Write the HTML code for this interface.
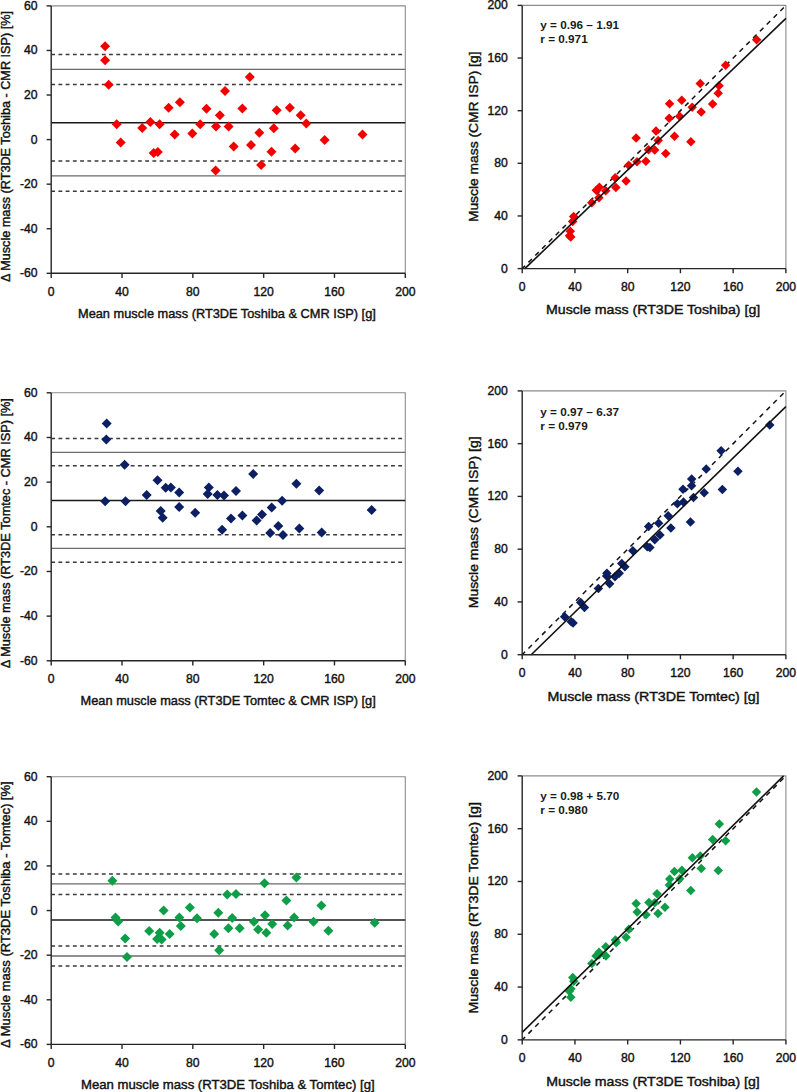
<!DOCTYPE html>
<html><head><meta charset="utf-8"><title>Muscle mass comparison</title>
<style>html,body{margin:0;padding:0;background:#fff;}svg{display:block;}text{font-family:"Liberation Sans", sans-serif;fill:#111;stroke:#111;stroke-width:0.4px;}.t{font-size:12.2px;}.ti{font-size:12.4px;}.ti2{font-size:13px;}.st{font-size:11.75px;font-weight:bold;fill:#1a1a1a;stroke:none;}</style></head><body>
<svg width="797" height="1092" viewBox="0 0 797 1092">
<rect width="797" height="1092" fill="#fff"/>
<path d="M51.2 5.9H405.3V273.3" fill="none" stroke="#8c8c8c" stroke-width="1.1"/>
<line x1="51.2" y1="54.4" x2="402.2" y2="54.4" stroke="#3a3a3a" stroke-width="1.5" stroke-dasharray="3.85 3.38"/>
<line x1="51.2" y1="69.4" x2="405.3" y2="69.4" stroke="#6a6a6a" stroke-width="1.3"/>
<line x1="51.2" y1="84.4" x2="402.2" y2="84.4" stroke="#3a3a3a" stroke-width="1.5" stroke-dasharray="3.85 3.38"/>
<line x1="51.2" y1="122.7" x2="405.3" y2="122.7" stroke="#1a1a1a" stroke-width="1.5"/>
<line x1="51.2" y1="160.9" x2="402.2" y2="160.9" stroke="#3a3a3a" stroke-width="1.5" stroke-dasharray="3.85 3.38"/>
<line x1="51.2" y1="175.9" x2="405.3" y2="175.9" stroke="#6a6a6a" stroke-width="1.3"/>
<line x1="51.2" y1="191.2" x2="402.2" y2="191.2" stroke="#3a3a3a" stroke-width="1.5" stroke-dasharray="3.85 3.38"/>
<path d="M105.1 41.3L110.1 46.3L105.1 51.3L100.1 46.3Z" fill="#f20000"/>
<path d="M105.1 55.3L110.1 60.3L105.1 65.3L100.1 60.3Z" fill="#f20000"/>
<path d="M108.7 79.7L113.7 84.7L108.7 89.7L103.7 84.7Z" fill="#f20000"/>
<path d="M116.7 119.2L121.7 124.2L116.7 129.2L111.7 124.2Z" fill="#f20000"/>
<path d="M120.7 137.5L125.7 142.5L120.7 147.5L115.7 142.5Z" fill="#f20000"/>
<path d="M142.2 123L147.2 128L142.2 133L137.2 128Z" fill="#f20000"/>
<path d="M150.3 116.9L155.3 121.9L150.3 126.9L145.3 121.9Z" fill="#f20000"/>
<path d="M159.6 119.2L164.6 124.2L159.6 129.2L154.6 124.2Z" fill="#f20000"/>
<path d="M153.7 147.9L158.7 152.9L153.7 157.9L148.7 152.9Z" fill="#f20000"/>
<path d="M157.8 147L162.8 152L157.8 157L152.8 152Z" fill="#f20000"/>
<path d="M168.6 102.7L173.6 107.7L168.6 112.7L163.6 107.7Z" fill="#f20000"/>
<path d="M179.9 97.3L184.9 102.3L179.9 107.3L174.9 102.3Z" fill="#f20000"/>
<path d="M174.7 129.6L179.7 134.6L174.7 139.6L169.7 134.6Z" fill="#f20000"/>
<path d="M192.3 128.5L197.3 133.5L192.3 138.5L187.3 133.5Z" fill="#f20000"/>
<path d="M200.2 119.2L205.2 124.2L200.2 129.2L195.2 124.2Z" fill="#f20000"/>
<path d="M206.5 103.8L211.5 108.8L206.5 113.8L201.5 108.8Z" fill="#f20000"/>
<path d="M216 121.5L221 126.5L216 131.5L211 126.5Z" fill="#f20000"/>
<path d="M219.9 110.2L224.9 115.2L219.9 120.2L214.9 115.2Z" fill="#f20000"/>
<path d="M225 86L230 91L225 96L220 91Z" fill="#f20000"/>
<path d="M228.6 121.5L233.6 126.5L228.6 131.5L223.6 126.5Z" fill="#f20000"/>
<path d="M233.7 141.4L238.7 146.4L233.7 151.4L228.7 146.4Z" fill="#f20000"/>
<path d="M215.6 165.5L220.6 170.5L215.6 175.5L210.6 170.5Z" fill="#f20000"/>
<path d="M249.8 72L254.8 77L249.8 82L244.8 77Z" fill="#f20000"/>
<path d="M242.4 103.6L247.4 108.6L242.4 113.6L237.4 108.6Z" fill="#f20000"/>
<path d="M251 140L256 145L251 150L246 145Z" fill="#f20000"/>
<path d="M259.3 127.8L264.3 132.8L259.3 137.8L254.3 132.8Z" fill="#f20000"/>
<path d="M261.1 160.1L266.1 165.1L261.1 170.1L256.1 165.1Z" fill="#f20000"/>
<path d="M273.8 123.3L278.8 128.3L273.8 133.3L268.8 128.3Z" fill="#f20000"/>
<path d="M276.7 105.2L281.7 110.2L276.7 115.2L271.7 110.2Z" fill="#f20000"/>
<path d="M271.5 146.8L276.5 151.8L271.5 156.8L266.5 151.8Z" fill="#f20000"/>
<path d="M289.8 102.7L294.8 107.7L289.8 112.7L284.8 107.7Z" fill="#f20000"/>
<path d="M300.7 110.2L305.7 115.2L300.7 120.2L295.7 115.2Z" fill="#f20000"/>
<path d="M306.3 118.5L311.3 123.5L306.3 128.5L301.3 123.5Z" fill="#f20000"/>
<path d="M295.2 143.6L300.2 148.6L295.2 153.6L290.2 148.6Z" fill="#f20000"/>
<path d="M324.6 135L329.6 140L324.6 145L319.6 140Z" fill="#f20000"/>
<path d="M362.5 129.6L367.5 134.6L362.5 139.6L357.5 134.6Z" fill="#f20000"/>
<path d="M51.2 5.9V273.3H405.3" fill="none" stroke="#262626" stroke-width="1.4"/>
<line x1="46.6" y1="273.3" x2="51.2" y2="273.3" stroke="#262626" stroke-width="1.4"/>
<text x="37.6" y="277.25" text-anchor="end" class="t">-60</text>
<line x1="46.6" y1="228.73" x2="51.2" y2="228.73" stroke="#262626" stroke-width="1.4"/>
<text x="37.6" y="232.68" text-anchor="end" class="t">-40</text>
<line x1="46.6" y1="184.17" x2="51.2" y2="184.17" stroke="#262626" stroke-width="1.4"/>
<text x="37.6" y="188.12" text-anchor="end" class="t">-20</text>
<line x1="46.6" y1="139.6" x2="51.2" y2="139.6" stroke="#262626" stroke-width="1.4"/>
<text x="37.6" y="143.55" text-anchor="end" class="t">0</text>
<line x1="46.6" y1="95.03" x2="51.2" y2="95.03" stroke="#262626" stroke-width="1.4"/>
<text x="37.6" y="98.98" text-anchor="end" class="t">20</text>
<line x1="46.6" y1="50.47" x2="51.2" y2="50.47" stroke="#262626" stroke-width="1.4"/>
<text x="37.6" y="54.42" text-anchor="end" class="t">40</text>
<line x1="46.6" y1="5.9" x2="51.2" y2="5.9" stroke="#262626" stroke-width="1.4"/>
<text x="37.6" y="9.85" text-anchor="end" class="t">60</text>
<line x1="51.2" y1="273.3" x2="51.2" y2="277.9" stroke="#262626" stroke-width="1.4"/>
<text x="51.2" y="295.9" text-anchor="middle" class="t">0</text>
<line x1="122.02" y1="273.3" x2="122.02" y2="277.9" stroke="#262626" stroke-width="1.4"/>
<text x="122.02" y="295.9" text-anchor="middle" class="t">40</text>
<line x1="192.84" y1="273.3" x2="192.84" y2="277.9" stroke="#262626" stroke-width="1.4"/>
<text x="192.84" y="295.9" text-anchor="middle" class="t">80</text>
<line x1="263.66" y1="273.3" x2="263.66" y2="277.9" stroke="#262626" stroke-width="1.4"/>
<text x="263.66" y="295.9" text-anchor="middle" class="t">120</text>
<line x1="334.48" y1="273.3" x2="334.48" y2="277.9" stroke="#262626" stroke-width="1.4"/>
<text x="334.48" y="295.9" text-anchor="middle" class="t">160</text>
<line x1="405.3" y1="273.3" x2="405.3" y2="277.9" stroke="#262626" stroke-width="1.4"/>
<text x="405.3" y="295.9" text-anchor="middle" class="t">200</text>
<text x="78" y="317.7" class="ti" textLength="297.8" lengthAdjust="spacingAndGlyphs">Mean muscle mass (RT3DE Toshiba &amp; CMR ISP) [g]</text>
<text transform="translate(9.8 282.1) rotate(-90)" class="ti" textLength="271.1" lengthAdjust="spacingAndGlyphs">Δ Muscle mass (RT3DE Toshiba - CMR ISP) [%]</text>
<path d="M51.2 392.8H405.3V660.8" fill="none" stroke="#8c8c8c" stroke-width="1.1"/>
<line x1="51.2" y1="438.5" x2="402.2" y2="438.5" stroke="#3a3a3a" stroke-width="1.5" stroke-dasharray="3.85 3.38"/>
<line x1="51.2" y1="452.3" x2="405.3" y2="452.3" stroke="#6a6a6a" stroke-width="1.3"/>
<line x1="51.2" y1="465.8" x2="402.2" y2="465.8" stroke="#3a3a3a" stroke-width="1.5" stroke-dasharray="3.85 3.38"/>
<line x1="51.2" y1="500.4" x2="405.3" y2="500.4" stroke="#1a1a1a" stroke-width="1.5"/>
<line x1="51.2" y1="534.8" x2="402.2" y2="534.8" stroke="#3a3a3a" stroke-width="1.5" stroke-dasharray="3.85 3.38"/>
<line x1="51.2" y1="548.3" x2="405.3" y2="548.3" stroke="#6a6a6a" stroke-width="1.3"/>
<line x1="51.2" y1="562.2" x2="402.2" y2="562.2" stroke="#3a3a3a" stroke-width="1.5" stroke-dasharray="3.85 3.38"/>
<path d="M106.7 418.6L111.7 423.6L106.7 428.6L101.7 423.6Z" fill="#0c1f62"/>
<path d="M106.3 434.4L111.3 439.4L106.3 444.4L101.3 439.4Z" fill="#0c1f62"/>
<path d="M124.6 459.7L129.6 464.7L124.6 469.7L119.6 464.7Z" fill="#0c1f62"/>
<path d="M105.1 496.2L110.1 501.2L105.1 506.2L100.1 501.2Z" fill="#0c1f62"/>
<path d="M125.5 496.2L130.5 501.2L125.5 506.2L120.5 501.2Z" fill="#0c1f62"/>
<path d="M146.7 490.1L151.7 495.1L146.7 500.1L141.7 495.1Z" fill="#0c1f62"/>
<path d="M157.5 475.2L162.5 480.2L157.5 485.2L152.5 480.2Z" fill="#0c1f62"/>
<path d="M165.7 482.7L170.7 487.7L165.7 492.7L160.7 487.7Z" fill="#0c1f62"/>
<path d="M170.9 482.5L175.9 487.5L170.9 492.5L165.9 487.5Z" fill="#0c1f62"/>
<path d="M179.2 487.4L184.2 492.4L179.2 497.4L174.2 492.4Z" fill="#0c1f62"/>
<path d="M160.7 505.9L165.7 510.9L160.7 515.9L155.7 510.9Z" fill="#0c1f62"/>
<path d="M162.7 512.7L167.7 517.7L162.7 522.7L157.7 517.7Z" fill="#0c1f62"/>
<path d="M179.2 502.1L184.2 507.1L179.2 512.1L174.2 507.1Z" fill="#0c1f62"/>
<path d="M195.2 507.8L200.2 512.8L195.2 517.8L190.2 512.8Z" fill="#0c1f62"/>
<path d="M208.8 482.5L213.8 487.5L208.8 492.5L203.8 487.5Z" fill="#0c1f62"/>
<path d="M207.7 489L212.7 494L207.7 499L202.7 494Z" fill="#0c1f62"/>
<path d="M217.4 490.1L222.4 495.1L217.4 500.1L212.4 495.1Z" fill="#0c1f62"/>
<path d="M224 490.4L229 495.4L224 500.4L219 495.4Z" fill="#0c1f62"/>
<path d="M236 486L241 491L236 496L231 491Z" fill="#0c1f62"/>
<path d="M231 513.4L236 518.4L231 523.4L226 518.4Z" fill="#0c1f62"/>
<path d="M222.1 524.7L227.1 529.7L222.1 534.7L217.1 529.7Z" fill="#0c1f62"/>
<path d="M242.4 510.5L247.4 515.5L242.4 520.5L237.4 515.5Z" fill="#0c1f62"/>
<path d="M253.2 468.9L258.2 473.9L253.2 478.9L248.2 473.9Z" fill="#0c1f62"/>
<path d="M256.6 515.4L261.6 520.4L256.6 525.4L251.6 520.4Z" fill="#0c1f62"/>
<path d="M262 509.6L267 514.6L262 519.6L257 514.6Z" fill="#0c1f62"/>
<path d="M271.7 502.6L276.7 507.6L271.7 512.6L266.7 507.6Z" fill="#0c1f62"/>
<path d="M282.1 495.8L287.1 500.8L282.1 505.8L277.1 500.8Z" fill="#0c1f62"/>
<path d="M278.3 521.1L283.3 526.1L278.3 531.1L273.3 526.1Z" fill="#0c1f62"/>
<path d="M270.2 528.1L275.2 533.1L270.2 538.1L265.2 533.1Z" fill="#0c1f62"/>
<path d="M283 529.9L288 534.9L283 539.9L278 534.9Z" fill="#0c1f62"/>
<path d="M296.4 478.8L301.4 483.8L296.4 488.8L291.4 483.8Z" fill="#0c1f62"/>
<path d="M299.3 523.6L304.3 528.6L299.3 533.6L294.3 528.6Z" fill="#0c1f62"/>
<path d="M319.2 485.6L324.2 490.6L319.2 495.6L314.2 490.6Z" fill="#0c1f62"/>
<path d="M321.7 527.4L326.7 532.4L321.7 537.4L316.7 532.4Z" fill="#0c1f62"/>
<path d="M371.6 505L376.6 510L371.6 515L366.6 510Z" fill="#0c1f62"/>
<path d="M51.2 392.8V660.8H405.3" fill="none" stroke="#262626" stroke-width="1.4"/>
<line x1="46.6" y1="660.8" x2="51.2" y2="660.8" stroke="#262626" stroke-width="1.4"/>
<text x="37.6" y="664.75" text-anchor="end" class="t">-60</text>
<line x1="46.6" y1="616.13" x2="51.2" y2="616.13" stroke="#262626" stroke-width="1.4"/>
<text x="37.6" y="620.08" text-anchor="end" class="t">-40</text>
<line x1="46.6" y1="571.47" x2="51.2" y2="571.47" stroke="#262626" stroke-width="1.4"/>
<text x="37.6" y="575.42" text-anchor="end" class="t">-20</text>
<line x1="46.6" y1="526.8" x2="51.2" y2="526.8" stroke="#262626" stroke-width="1.4"/>
<text x="37.6" y="530.75" text-anchor="end" class="t">0</text>
<line x1="46.6" y1="482.13" x2="51.2" y2="482.13" stroke="#262626" stroke-width="1.4"/>
<text x="37.6" y="486.08" text-anchor="end" class="t">20</text>
<line x1="46.6" y1="437.47" x2="51.2" y2="437.47" stroke="#262626" stroke-width="1.4"/>
<text x="37.6" y="441.42" text-anchor="end" class="t">40</text>
<line x1="46.6" y1="392.8" x2="51.2" y2="392.8" stroke="#262626" stroke-width="1.4"/>
<text x="37.6" y="396.75" text-anchor="end" class="t">60</text>
<line x1="51.2" y1="660.8" x2="51.2" y2="665.4" stroke="#262626" stroke-width="1.4"/>
<text x="51.2" y="683.4" text-anchor="middle" class="t">0</text>
<line x1="122.02" y1="660.8" x2="122.02" y2="665.4" stroke="#262626" stroke-width="1.4"/>
<text x="122.02" y="683.4" text-anchor="middle" class="t">40</text>
<line x1="192.84" y1="660.8" x2="192.84" y2="665.4" stroke="#262626" stroke-width="1.4"/>
<text x="192.84" y="683.4" text-anchor="middle" class="t">80</text>
<line x1="263.66" y1="660.8" x2="263.66" y2="665.4" stroke="#262626" stroke-width="1.4"/>
<text x="263.66" y="683.4" text-anchor="middle" class="t">120</text>
<line x1="334.48" y1="660.8" x2="334.48" y2="665.4" stroke="#262626" stroke-width="1.4"/>
<text x="334.48" y="683.4" text-anchor="middle" class="t">160</text>
<line x1="405.3" y1="660.8" x2="405.3" y2="665.4" stroke="#262626" stroke-width="1.4"/>
<text x="405.3" y="683.4" text-anchor="middle" class="t">200</text>
<text x="80.6" y="705.2" class="ti" textLength="295.2" lengthAdjust="spacingAndGlyphs">Mean muscle mass (RT3DE Tomtec &amp; CMR ISP) [g]</text>
<text transform="translate(9.8 668.2) rotate(-90)" class="ti" textLength="270.1" lengthAdjust="spacingAndGlyphs">Δ Muscle mass (RT3DE Tomtec - CMR ISP) [%]</text>
<path d="M51.2 776.7H405.3V1044.4" fill="none" stroke="#8c8c8c" stroke-width="1.1"/>
<line x1="51.2" y1="874" x2="402.2" y2="874" stroke="#3a3a3a" stroke-width="1.5" stroke-dasharray="3.85 3.38"/>
<line x1="51.2" y1="883.9" x2="405.3" y2="883.9" stroke="#6a6a6a" stroke-width="1.3"/>
<line x1="51.2" y1="894.6" x2="402.2" y2="894.6" stroke="#3a3a3a" stroke-width="1.5" stroke-dasharray="3.85 3.38"/>
<line x1="51.2" y1="919.9" x2="405.3" y2="919.9" stroke="#1a1a1a" stroke-width="1.5"/>
<line x1="51.2" y1="946" x2="402.2" y2="946" stroke="#3a3a3a" stroke-width="1.5" stroke-dasharray="3.85 3.38"/>
<line x1="51.2" y1="956" x2="405.3" y2="956" stroke="#6a6a6a" stroke-width="1.3"/>
<line x1="51.2" y1="966.1" x2="402.2" y2="966.1" stroke="#3a3a3a" stroke-width="1.5" stroke-dasharray="3.85 3.38"/>
<path d="M112.4 875.8L117.4 880.8L112.4 885.8L107.4 880.8Z" fill="#0e9e48"/>
<path d="M115.5 912.6L120.5 917.6L115.5 922.6L110.5 917.6Z" fill="#0e9e48"/>
<path d="M118.2 916.4L123.2 921.4L118.2 926.4L113.2 921.4Z" fill="#0e9e48"/>
<path d="M125.2 933.6L130.2 938.6L125.2 943.6L120.2 938.6Z" fill="#0e9e48"/>
<path d="M127 952.1L132 957.1L127 962.1L122 957.1Z" fill="#0e9e48"/>
<path d="M149.2 925.9L154.2 930.9L149.2 935.9L144.2 930.9Z" fill="#0e9e48"/>
<path d="M159.6 927.7L164.6 932.7L159.6 937.7L154.6 932.7Z" fill="#0e9e48"/>
<path d="M157.1 934L162.1 939L157.1 944L152.1 939Z" fill="#0e9e48"/>
<path d="M161.6 934.5L166.6 939.5L161.6 944.5L156.6 939.5Z" fill="#0e9e48"/>
<path d="M169.7 929.1L174.7 934.1L169.7 939.1L164.7 934.1Z" fill="#0e9e48"/>
<path d="M163.6 905.4L168.6 910.4L163.6 915.4L158.6 910.4Z" fill="#0e9e48"/>
<path d="M179.4 912.4L184.4 917.4L179.4 922.4L174.4 917.4Z" fill="#0e9e48"/>
<path d="M180.8 920.9L185.8 925.9L180.8 930.9L175.8 925.9Z" fill="#0e9e48"/>
<path d="M189.8 902.4L194.8 907.4L189.8 912.4L184.8 907.4Z" fill="#0e9e48"/>
<path d="M197 913.3L202 918.3L197 923.3L192 918.3Z" fill="#0e9e48"/>
<path d="M214.2 929.1L219.2 934.1L214.2 939.1L209.2 934.1Z" fill="#0e9e48"/>
<path d="M218.3 907.8L223.3 912.8L218.3 917.8L213.3 912.8Z" fill="#0e9e48"/>
<path d="M219.2 945.3L224.2 950.3L219.2 955.3L214.2 950.3Z" fill="#0e9e48"/>
<path d="M227.2 889.4L232.2 894.4L227.2 899.4L222.2 894.4Z" fill="#0e9e48"/>
<path d="M228.4 923.2L233.4 928.2L228.4 933.2L223.4 928.2Z" fill="#0e9e48"/>
<path d="M232.2 913L237.2 918L232.2 923L227.2 918Z" fill="#0e9e48"/>
<path d="M236 889L241 894L236 899L231 894Z" fill="#0e9e48"/>
<path d="M239.7 923.2L244.7 928.2L239.7 933.2L234.7 928.2Z" fill="#0e9e48"/>
<path d="M264.5 878.3L269.5 883.3L264.5 888.3L259.5 883.3Z" fill="#0e9e48"/>
<path d="M296.4 872.6L301.4 877.6L296.4 882.6L291.4 877.6Z" fill="#0e9e48"/>
<path d="M286.4 895.6L291.4 900.6L286.4 905.6L281.4 900.6Z" fill="#0e9e48"/>
<path d="M321.4 900.6L326.4 905.6L321.4 910.6L316.4 905.6Z" fill="#0e9e48"/>
<path d="M265 910.3L270 915.3L265 920.3L260 915.3Z" fill="#0e9e48"/>
<path d="M253.9 916.7L258.9 921.7L253.9 926.7L248.9 921.7Z" fill="#0e9e48"/>
<path d="M258.2 924.6L263.2 929.6L258.2 934.6L253.2 929.6Z" fill="#0e9e48"/>
<path d="M266.3 927.7L271.3 932.7L266.3 937.7L261.3 932.7Z" fill="#0e9e48"/>
<path d="M272.2 918.9L277.2 923.9L272.2 928.9L267.2 923.9Z" fill="#0e9e48"/>
<path d="M287.6 920.5L292.6 925.5L287.6 930.5L282.6 925.5Z" fill="#0e9e48"/>
<path d="M294.1 912.6L299.1 917.6L294.1 922.6L289.1 917.6Z" fill="#0e9e48"/>
<path d="M313.5 916.7L318.5 921.7L313.5 926.7L308.5 921.7Z" fill="#0e9e48"/>
<path d="M328.4 925.7L333.4 930.7L328.4 935.7L323.4 930.7Z" fill="#0e9e48"/>
<path d="M374.7 917.8L379.7 922.8L374.7 927.8L369.7 922.8Z" fill="#0e9e48"/>
<path d="M51.2 776.7V1044.4H405.3" fill="none" stroke="#262626" stroke-width="1.4"/>
<line x1="46.6" y1="1044.4" x2="51.2" y2="1044.4" stroke="#262626" stroke-width="1.4"/>
<text x="37.6" y="1048.35" text-anchor="end" class="t">-60</text>
<line x1="46.6" y1="999.78" x2="51.2" y2="999.78" stroke="#262626" stroke-width="1.4"/>
<text x="37.6" y="1003.73" text-anchor="end" class="t">-40</text>
<line x1="46.6" y1="955.17" x2="51.2" y2="955.17" stroke="#262626" stroke-width="1.4"/>
<text x="37.6" y="959.12" text-anchor="end" class="t">-20</text>
<line x1="46.6" y1="910.55" x2="51.2" y2="910.55" stroke="#262626" stroke-width="1.4"/>
<text x="37.6" y="914.5" text-anchor="end" class="t">0</text>
<line x1="46.6" y1="865.93" x2="51.2" y2="865.93" stroke="#262626" stroke-width="1.4"/>
<text x="37.6" y="869.88" text-anchor="end" class="t">20</text>
<line x1="46.6" y1="821.32" x2="51.2" y2="821.32" stroke="#262626" stroke-width="1.4"/>
<text x="37.6" y="825.27" text-anchor="end" class="t">40</text>
<line x1="46.6" y1="776.7" x2="51.2" y2="776.7" stroke="#262626" stroke-width="1.4"/>
<text x="37.6" y="780.65" text-anchor="end" class="t">60</text>
<line x1="51.2" y1="1044.4" x2="51.2" y2="1049" stroke="#262626" stroke-width="1.4"/>
<text x="51.2" y="1067" text-anchor="middle" class="t">0</text>
<line x1="122.02" y1="1044.4" x2="122.02" y2="1049" stroke="#262626" stroke-width="1.4"/>
<text x="122.02" y="1067" text-anchor="middle" class="t">40</text>
<line x1="192.84" y1="1044.4" x2="192.84" y2="1049" stroke="#262626" stroke-width="1.4"/>
<text x="192.84" y="1067" text-anchor="middle" class="t">80</text>
<line x1="263.66" y1="1044.4" x2="263.66" y2="1049" stroke="#262626" stroke-width="1.4"/>
<text x="263.66" y="1067" text-anchor="middle" class="t">120</text>
<line x1="334.48" y1="1044.4" x2="334.48" y2="1049" stroke="#262626" stroke-width="1.4"/>
<text x="334.48" y="1067" text-anchor="middle" class="t">160</text>
<line x1="405.3" y1="1044.4" x2="405.3" y2="1049" stroke="#262626" stroke-width="1.4"/>
<text x="405.3" y="1067" text-anchor="middle" class="t">200</text>
<text x="81" y="1088.8" class="ti" textLength="293.6" lengthAdjust="spacingAndGlyphs">Mean muscle mass (RT3DE Toshiba &amp; Tomtec) [g]</text>
<text transform="translate(9.8 1047.9) rotate(-90)" class="ti" textLength="266.6" lengthAdjust="spacingAndGlyphs">Δ Muscle mass (RT3DE Toshiba - Tomtec) [%]</text>
<path d="M522.2 5.4H785.9V268.6" fill="none" stroke="#8c8c8c" stroke-width="1.1"/>
<line x1="522.2" y1="268.6" x2="785.9" y2="5.4" stroke="#111" stroke-width="1.5" stroke-dasharray="4.9 4.72" stroke-dashoffset="0.8"/>
<path d="M570.74 232.17L575.49 236.92L570.74 241.67L565.99 236.92Z" fill="#f20000"/>
<path d="M569.48 230.92L574.23 235.67L569.48 240.42L564.73 235.67Z" fill="#f20000"/>
<path d="M570.3 226.38L575.05 231.13L570.3 235.88L565.55 231.13Z" fill="#f20000"/>
<path d="M572.66 216.85L577.41 221.6L572.66 226.35L567.91 221.6Z" fill="#f20000"/>
<path d="M573.62 211.85L578.37 216.6L573.62 221.35L568.87 216.6Z" fill="#f20000"/>
<path d="M591.73 197.97L596.48 202.72L591.73 207.47L586.98 202.72Z" fill="#f20000"/>
<path d="M598.93 193.12L603.68 197.87L598.93 202.62L594.18 197.87Z" fill="#f20000"/>
<path d="M605.72 186.06L610.47 190.81L605.72 195.56L600.97 190.81Z" fill="#f20000"/>
<path d="M596.25 185.39L601 190.14L596.25 194.89L591.5 190.14Z" fill="#f20000"/>
<path d="M599.38 182.41L604.13 187.16L599.38 191.91L594.63 187.16Z" fill="#f20000"/>
<path d="M615.89 182.83L620.64 187.58L615.89 192.33L611.14 187.58Z" fill="#f20000"/>
<path d="M626.07 176.19L630.82 180.94L626.07 185.69L621.32 180.94Z" fill="#f20000"/>
<path d="M615.2 173.08L619.95 177.83L615.2 182.58L610.45 177.83Z" fill="#f20000"/>
<path d="M628.72 160.41L633.47 165.16L628.72 169.91L623.97 165.16Z" fill="#f20000"/>
<path d="M637 156.93L641.75 161.68L637 166.43L632.25 161.68Z" fill="#f20000"/>
<path d="M645.85 156.39L650.6 161.14L645.85 165.89L641.1 161.14Z" fill="#f20000"/>
<path d="M648.53 144.96L653.28 149.71L648.53 154.46L643.78 149.71Z" fill="#f20000"/>
<path d="M654.71 145.32L659.46 150.07L654.71 154.82L649.96 150.07Z" fill="#f20000"/>
<path d="M665.74 148.75L670.49 153.5L665.74 158.25L660.99 153.5Z" fill="#f20000"/>
<path d="M658.19 135.87L662.94 140.62L658.19 145.37L653.44 140.62Z" fill="#f20000"/>
<path d="M656.03 126.13L660.78 130.88L656.03 135.63L651.28 130.88Z" fill="#f20000"/>
<path d="M636.14 133.18L640.89 137.93L636.14 142.68L631.39 137.93Z" fill="#f20000"/>
<path d="M690.87 136.97L695.62 141.72L690.87 146.47L686.12 141.72Z" fill="#f20000"/>
<path d="M674.49 131.62L679.24 136.37L674.49 141.12L669.74 136.37Z" fill="#f20000"/>
<path d="M669.19 113.54L673.94 118.29L669.19 123.04L664.44 118.29Z" fill="#f20000"/>
<path d="M679.54 111.53L684.29 116.28L679.54 121.03L674.79 116.28Z" fill="#f20000"/>
<path d="M669.57 98.91L674.32 103.66L669.57 108.41L664.82 103.66Z" fill="#f20000"/>
<path d="M692.17 102.59L696.92 107.34L692.17 112.09L687.42 107.34Z" fill="#f20000"/>
<path d="M701.21 107.29L705.96 112.04L701.21 116.79L696.46 112.04Z" fill="#f20000"/>
<path d="M681.77 95.62L686.52 100.37L681.77 105.12L677.02 100.37Z" fill="#f20000"/>
<path d="M712.61 99.19L717.36 103.94L712.61 108.69L707.86 103.94Z" fill="#f20000"/>
<path d="M718.18 88.55L722.93 93.3L718.18 98.05L713.43 93.3Z" fill="#f20000"/>
<path d="M719.04 81.09L723.79 85.84L719.04 90.59L714.29 85.84Z" fill="#f20000"/>
<path d="M700.24 78.82L704.99 83.57L700.24 88.32L695.49 83.57Z" fill="#f20000"/>
<path d="M725.62 60.45L730.37 65.2L725.62 69.95L720.87 65.2Z" fill="#f20000"/>
<path d="M756.63 35.06L761.38 39.81L756.63 44.56L751.88 39.81Z" fill="#f20000"/>
<line x1="524.82" y1="268.6" x2="785.9" y2="18.44" stroke="#111" stroke-width="1.6"/>
<path d="M522.2 5.4V268.6H785.9" fill="none" stroke="#262626" stroke-width="1.4"/>
<line x1="517.6" y1="268.6" x2="522.2" y2="268.6" stroke="#262626" stroke-width="1.4"/>
<text x="507.8" y="272.55" text-anchor="end" class="t">0</text>
<line x1="522.2" y1="268.6" x2="522.2" y2="273.2" stroke="#262626" stroke-width="1.4"/>
<text x="522.2" y="291" text-anchor="middle" class="t">0</text>
<line x1="517.6" y1="215.96" x2="522.2" y2="215.96" stroke="#262626" stroke-width="1.4"/>
<text x="507.8" y="219.91" text-anchor="end" class="t">40</text>
<line x1="574.94" y1="268.6" x2="574.94" y2="273.2" stroke="#262626" stroke-width="1.4"/>
<text x="574.94" y="291" text-anchor="middle" class="t">40</text>
<line x1="517.6" y1="163.32" x2="522.2" y2="163.32" stroke="#262626" stroke-width="1.4"/>
<text x="507.8" y="167.27" text-anchor="end" class="t">80</text>
<line x1="627.68" y1="268.6" x2="627.68" y2="273.2" stroke="#262626" stroke-width="1.4"/>
<text x="627.68" y="291" text-anchor="middle" class="t">80</text>
<line x1="517.6" y1="110.68" x2="522.2" y2="110.68" stroke="#262626" stroke-width="1.4"/>
<text x="507.8" y="114.63" text-anchor="end" class="t">120</text>
<line x1="680.42" y1="268.6" x2="680.42" y2="273.2" stroke="#262626" stroke-width="1.4"/>
<text x="680.42" y="291" text-anchor="middle" class="t">120</text>
<line x1="517.6" y1="58.04" x2="522.2" y2="58.04" stroke="#262626" stroke-width="1.4"/>
<text x="507.8" y="61.99" text-anchor="end" class="t">160</text>
<line x1="733.16" y1="268.6" x2="733.16" y2="273.2" stroke="#262626" stroke-width="1.4"/>
<text x="733.16" y="291" text-anchor="middle" class="t">160</text>
<line x1="517.6" y1="5.4" x2="522.2" y2="5.4" stroke="#262626" stroke-width="1.4"/>
<text x="507.8" y="9.35" text-anchor="end" class="t">200</text>
<line x1="785.9" y1="268.6" x2="785.9" y2="273.2" stroke="#262626" stroke-width="1.4"/>
<text x="785.9" y="291" text-anchor="middle" class="t">200</text>
<text x="546" y="314.4" class="ti2" textLength="214.2" lengthAdjust="spacingAndGlyphs">Muscle mass (RT3DE Toshiba) [g]</text>
<text transform="translate(478.2 222.1) rotate(-90)" class="ti2" textLength="170.6" lengthAdjust="spacingAndGlyphs">Muscle mass (CMR ISP) [g]</text>
<text x="540.3" y="28.8" class="st">y = 0.96 – 1.91</text>
<text x="540.3" y="43.1" class="st">r = 0.971</text>
<path d="M522.2 390.9H785.9V654.7" fill="none" stroke="#8c8c8c" stroke-width="1.1"/>
<line x1="522.2" y1="654.7" x2="785.9" y2="390.9" stroke="#111" stroke-width="1.5" stroke-dasharray="4.9 4.72" stroke-dashoffset="0.8"/>
<path d="M573.08 618.16L577.83 622.91L573.08 627.66L568.33 622.91Z" fill="#0c1f62"/>
<path d="M571.26 616.93L576.01 621.68L571.26 626.43L566.51 621.68Z" fill="#0c1f62"/>
<path d="M584.46 602.87L589.21 607.62L584.46 612.37L579.71 607.62Z" fill="#0c1f62"/>
<path d="M564.64 612.1L569.39 616.85L564.64 621.6L559.89 616.85Z" fill="#0c1f62"/>
<path d="M580.7 597.77L585.45 602.52L580.7 607.27L575.95 602.52Z" fill="#0c1f62"/>
<path d="M598.37 583.85L603.12 588.6L598.37 593.35L593.62 588.6Z" fill="#0c1f62"/>
<path d="M609.62 579.02L614.37 583.77L609.62 588.52L604.87 583.77Z" fill="#0c1f62"/>
<path d="M614.93 572.12L619.68 576.87L614.93 581.62L610.18 576.87Z" fill="#0c1f62"/>
<path d="M619.18 568.62L623.93 573.37L619.18 578.12L614.43 573.37Z" fill="#0c1f62"/>
<path d="M624.86 561.94L629.61 566.69L624.86 571.44L620.11 566.69Z" fill="#0c1f62"/>
<path d="M606.65 571.28L611.4 576.03L606.65 580.78L601.9 576.03Z" fill="#0c1f62"/>
<path d="M606.93 568.58L611.68 573.33L606.93 578.08L602.18 573.33Z" fill="#0c1f62"/>
<path d="M621.73 558.8L626.48 563.55L621.73 568.3L616.98 563.55Z" fill="#0c1f62"/>
<path d="M632.8 546.03L637.55 550.78L632.8 555.53L628.05 550.78Z" fill="#0c1f62"/>
<path d="M649.89 542.87L654.64 547.62L649.89 552.37L645.14 547.62Z" fill="#0c1f62"/>
<path d="M647.3 541.92L652.05 546.67L647.3 551.42L642.55 546.67Z" fill="#0c1f62"/>
<path d="M654.75 534.92L659.5 539.67L654.75 544.42L650 539.67Z" fill="#0c1f62"/>
<path d="M659.93 530.27L664.68 535.02L659.93 539.77L655.18 535.02Z" fill="#0c1f62"/>
<path d="M670.85 523.31L675.6 528.06L670.85 532.81L666.1 528.06Z" fill="#0c1f62"/>
<path d="M658.62 518.52L663.37 523.27L658.62 528.02L653.87 523.27Z" fill="#0c1f62"/>
<path d="M648.64 521.81L653.39 526.56L648.64 531.31L643.89 526.56Z" fill="#0c1f62"/>
<path d="M668.19 511.11L672.94 515.86L668.19 520.61L663.44 515.86Z" fill="#0c1f62"/>
<path d="M690.45 517.29L695.2 522.04L690.45 526.79L685.7 522.04Z" fill="#0c1f62"/>
<path d="M677.35 499.12L682.1 503.87L677.35 508.62L672.6 503.87Z" fill="#0c1f62"/>
<path d="M683.47 497.2L688.22 501.95L683.47 506.7L678.72 501.95Z" fill="#0c1f62"/>
<path d="M693.47 492.74L698.22 497.49L693.47 502.24L688.72 497.49Z" fill="#0c1f62"/>
<path d="M704.16 487.95L708.91 492.7L704.16 497.45L699.41 492.7Z" fill="#0c1f62"/>
<path d="M691.59 481.03L696.34 485.78L691.59 490.53L686.84 485.78Z" fill="#0c1f62"/>
<path d="M682.99 484.5L687.74 489.25L682.99 494L678.24 489.25Z" fill="#0c1f62"/>
<path d="M691.69 474.13L696.44 478.88L691.69 483.63L686.94 478.88Z" fill="#0c1f62"/>
<path d="M722.38 484.86L727.13 489.61L722.38 494.36L717.63 489.61Z" fill="#0c1f62"/>
<path d="M706.22 464.37L710.97 469.12L706.22 473.87L701.47 469.12Z" fill="#0c1f62"/>
<path d="M737.96 466.47L742.71 471.22L737.96 475.97L733.21 471.22Z" fill="#0c1f62"/>
<path d="M721.12 445.9L725.87 450.65L721.12 455.4L716.37 450.65Z" fill="#0c1f62"/>
<path d="M769.78 420.23L774.53 424.98L769.78 429.73L765.03 424.98Z" fill="#0c1f62"/>
<line x1="531.2" y1="654.7" x2="785.9" y2="406.6" stroke="#111" stroke-width="1.6"/>
<path d="M522.2 390.9V654.7H785.9" fill="none" stroke="#262626" stroke-width="1.4"/>
<line x1="517.6" y1="654.7" x2="522.2" y2="654.7" stroke="#262626" stroke-width="1.4"/>
<text x="507.8" y="658.65" text-anchor="end" class="t">0</text>
<line x1="522.2" y1="654.7" x2="522.2" y2="659.3" stroke="#262626" stroke-width="1.4"/>
<text x="522.2" y="677.1" text-anchor="middle" class="t">0</text>
<line x1="517.6" y1="601.94" x2="522.2" y2="601.94" stroke="#262626" stroke-width="1.4"/>
<text x="507.8" y="605.89" text-anchor="end" class="t">40</text>
<line x1="574.94" y1="654.7" x2="574.94" y2="659.3" stroke="#262626" stroke-width="1.4"/>
<text x="574.94" y="677.1" text-anchor="middle" class="t">40</text>
<line x1="517.6" y1="549.18" x2="522.2" y2="549.18" stroke="#262626" stroke-width="1.4"/>
<text x="507.8" y="553.13" text-anchor="end" class="t">80</text>
<line x1="627.68" y1="654.7" x2="627.68" y2="659.3" stroke="#262626" stroke-width="1.4"/>
<text x="627.68" y="677.1" text-anchor="middle" class="t">80</text>
<line x1="517.6" y1="496.42" x2="522.2" y2="496.42" stroke="#262626" stroke-width="1.4"/>
<text x="507.8" y="500.37" text-anchor="end" class="t">120</text>
<line x1="680.42" y1="654.7" x2="680.42" y2="659.3" stroke="#262626" stroke-width="1.4"/>
<text x="680.42" y="677.1" text-anchor="middle" class="t">120</text>
<line x1="517.6" y1="443.66" x2="522.2" y2="443.66" stroke="#262626" stroke-width="1.4"/>
<text x="507.8" y="447.61" text-anchor="end" class="t">160</text>
<line x1="733.16" y1="654.7" x2="733.16" y2="659.3" stroke="#262626" stroke-width="1.4"/>
<text x="733.16" y="677.1" text-anchor="middle" class="t">160</text>
<line x1="517.6" y1="390.9" x2="522.2" y2="390.9" stroke="#262626" stroke-width="1.4"/>
<text x="507.8" y="394.85" text-anchor="end" class="t">200</text>
<line x1="785.9" y1="654.7" x2="785.9" y2="659.3" stroke="#262626" stroke-width="1.4"/>
<text x="785.9" y="677.1" text-anchor="middle" class="t">200</text>
<text x="547.4" y="700.5" class="ti2" textLength="212.2" lengthAdjust="spacingAndGlyphs">Muscle mass (RT3DE Tomtec) [g]</text>
<text transform="translate(478.2 608.2) rotate(-90)" class="ti2" textLength="171.8" lengthAdjust="spacingAndGlyphs">Muscle mass (CMR ISP) [g]</text>
<text x="540.3" y="415.5" class="st">y = 0.97 – 6.37</text>
<text x="540.3" y="429.8" class="st">r = 0.979</text>
<path d="M522.2 775.9H785.9V1039.85" fill="none" stroke="#8c8c8c" stroke-width="1.1"/>
<line x1="522.2" y1="1039.85" x2="785.9" y2="775.9" stroke="#111" stroke-width="1.5" stroke-dasharray="4.9 4.72" stroke-dashoffset="0.8"/>
<path d="M570.81 992.52L575.56 997.27L570.81 1002.02L566.06 997.27Z" fill="#0e9e48"/>
<path d="M569.33 986.41L574.08 991.16L569.33 995.91L564.58 991.16Z" fill="#0e9e48"/>
<path d="M570.88 983.94L575.63 988.69L570.88 993.44L566.13 988.69Z" fill="#0e9e48"/>
<path d="M573.84 976.47L578.59 981.22L573.84 985.97L569.09 981.22Z" fill="#0e9e48"/>
<path d="M572.76 972.7L577.51 977.45L572.76 982.2L568.01 977.45Z" fill="#0e9e48"/>
<path d="M591.85 958.72L596.6 963.47L591.85 968.22L587.1 963.47Z" fill="#0e9e48"/>
<path d="M598.92 950.29L603.67 955.04L598.92 959.79L594.17 955.04Z" fill="#0e9e48"/>
<path d="M596.04 951.13L600.79 955.88L596.04 960.63L591.29 955.88Z" fill="#0e9e48"/>
<path d="M599.08 947.47L603.83 952.22L599.08 956.97L594.33 952.22Z" fill="#0e9e48"/>
<path d="M605.79 942.11L610.54 946.86L605.79 951.61L601.04 946.86Z" fill="#0e9e48"/>
<path d="M605.93 951.34L610.68 956.09L605.93 960.84L601.18 956.09Z" fill="#0e9e48"/>
<path d="M616.21 938.07L620.96 942.82L616.21 947.57L611.46 942.82Z" fill="#0e9e48"/>
<path d="M615.39 935.17L620.14 939.92L615.39 944.67L610.64 939.92Z" fill="#0e9e48"/>
<path d="M626.14 932.52L630.89 937.27L626.14 942.02L621.39 937.27Z" fill="#0e9e48"/>
<path d="M628.89 924.53L633.64 929.28L628.89 934.03L624.14 929.28Z" fill="#0e9e48"/>
<path d="M637.18 907.18L641.93 911.93L637.18 916.68L632.43 911.93Z" fill="#0e9e48"/>
<path d="M646.01 909.91L650.76 914.66L646.01 919.41L641.26 914.66Z" fill="#0e9e48"/>
<path d="M636.16 898.71L640.91 903.46L636.16 908.21L631.41 903.46Z" fill="#0e9e48"/>
<path d="M658.01 908.66L662.76 913.41L658.01 918.16L653.26 913.41Z" fill="#0e9e48"/>
<path d="M648.94 897.79L653.69 902.54L648.94 907.29L644.19 902.54Z" fill="#0e9e48"/>
<path d="M654.74 897.93L659.49 902.68L654.74 907.43L649.99 902.68Z" fill="#0e9e48"/>
<path d="M664.93 902.46L669.68 907.21L664.93 911.96L660.18 907.21Z" fill="#0e9e48"/>
<path d="M657.02 889.03L661.77 893.78L657.02 898.53L652.27 893.78Z" fill="#0e9e48"/>
<path d="M690.75 885.81L695.5 890.56L690.75 895.31L686 890.56Z" fill="#0e9e48"/>
<path d="M718.29 865.82L723.04 870.57L718.29 875.32L713.54 870.57Z" fill="#0e9e48"/>
<path d="M701.26 863.69L706.01 868.44L701.26 873.19L696.51 868.44Z" fill="#0e9e48"/>
<path d="M725.65 835.92L730.4 840.67L725.65 845.42L720.9 840.67Z" fill="#0e9e48"/>
<path d="M679.72 874.03L684.47 878.78L679.72 883.53L674.97 878.78Z" fill="#0e9e48"/>
<path d="M669.38 880.23L674.13 884.98L669.38 889.73L664.63 884.98Z" fill="#0e9e48"/>
<path d="M669.77 874.21L674.52 878.96L669.77 883.71L665.02 878.96Z" fill="#0e9e48"/>
<path d="M674.43 866.8L679.18 871.55L674.43 876.3L669.68 871.55Z" fill="#0e9e48"/>
<path d="M681.86 865.44L686.61 870.19L681.86 874.94L677.11 870.19Z" fill="#0e9e48"/>
<path d="M692.35 852.98L697.1 857.73L692.35 862.48L687.6 857.73Z" fill="#0e9e48"/>
<path d="M700.23 851.18L704.98 855.93L700.23 860.68L695.48 855.93Z" fill="#0e9e48"/>
<path d="M712.65 834.69L717.4 839.44L712.65 844.19L707.9 839.44Z" fill="#0e9e48"/>
<path d="M719.31 819.14L724.06 823.89L719.31 828.64L714.56 823.89Z" fill="#0e9e48"/>
<path d="M756.5 787.34L761.25 792.09L756.5 796.84L751.75 792.09Z" fill="#0e9e48"/>
<line x1="522.2" y1="1032.33" x2="783.61" y2="775.9" stroke="#111" stroke-width="1.6"/>
<path d="M522.2 775.9V1039.85H785.9" fill="none" stroke="#262626" stroke-width="1.4"/>
<line x1="517.6" y1="1039.85" x2="522.2" y2="1039.85" stroke="#262626" stroke-width="1.4"/>
<text x="507.8" y="1043.8" text-anchor="end" class="t">0</text>
<line x1="522.2" y1="1039.85" x2="522.2" y2="1044.45" stroke="#262626" stroke-width="1.4"/>
<text x="522.2" y="1062.25" text-anchor="middle" class="t">0</text>
<line x1="517.6" y1="987.06" x2="522.2" y2="987.06" stroke="#262626" stroke-width="1.4"/>
<text x="507.8" y="991.01" text-anchor="end" class="t">40</text>
<line x1="574.94" y1="1039.85" x2="574.94" y2="1044.45" stroke="#262626" stroke-width="1.4"/>
<text x="574.94" y="1062.25" text-anchor="middle" class="t">40</text>
<line x1="517.6" y1="934.27" x2="522.2" y2="934.27" stroke="#262626" stroke-width="1.4"/>
<text x="507.8" y="938.22" text-anchor="end" class="t">80</text>
<line x1="627.68" y1="1039.85" x2="627.68" y2="1044.45" stroke="#262626" stroke-width="1.4"/>
<text x="627.68" y="1062.25" text-anchor="middle" class="t">80</text>
<line x1="517.6" y1="881.48" x2="522.2" y2="881.48" stroke="#262626" stroke-width="1.4"/>
<text x="507.8" y="885.43" text-anchor="end" class="t">120</text>
<line x1="680.42" y1="1039.85" x2="680.42" y2="1044.45" stroke="#262626" stroke-width="1.4"/>
<text x="680.42" y="1062.25" text-anchor="middle" class="t">120</text>
<line x1="517.6" y1="828.69" x2="522.2" y2="828.69" stroke="#262626" stroke-width="1.4"/>
<text x="507.8" y="832.64" text-anchor="end" class="t">160</text>
<line x1="733.16" y1="1039.85" x2="733.16" y2="1044.45" stroke="#262626" stroke-width="1.4"/>
<text x="733.16" y="1062.25" text-anchor="middle" class="t">160</text>
<line x1="517.6" y1="775.9" x2="522.2" y2="775.9" stroke="#262626" stroke-width="1.4"/>
<text x="507.8" y="779.85" text-anchor="end" class="t">200</text>
<line x1="785.9" y1="1039.85" x2="785.9" y2="1044.45" stroke="#262626" stroke-width="1.4"/>
<text x="785.9" y="1062.25" text-anchor="middle" class="t">200</text>
<text x="546.2" y="1085.65" class="ti2" textLength="213.6" lengthAdjust="spacingAndGlyphs">Muscle mass (RT3DE Toshiba) [g]</text>
<text transform="translate(478.2 1013.6) rotate(-90)" class="ti2" textLength="211.5" lengthAdjust="spacingAndGlyphs">Muscle mass (RT3DE Tomtec) [g]</text>
<text x="540.3" y="800" class="st">y = 0.98 + 5.70</text>
<text x="540.3" y="814.3" class="st">r = 0.980</text>
</svg></body></html>
